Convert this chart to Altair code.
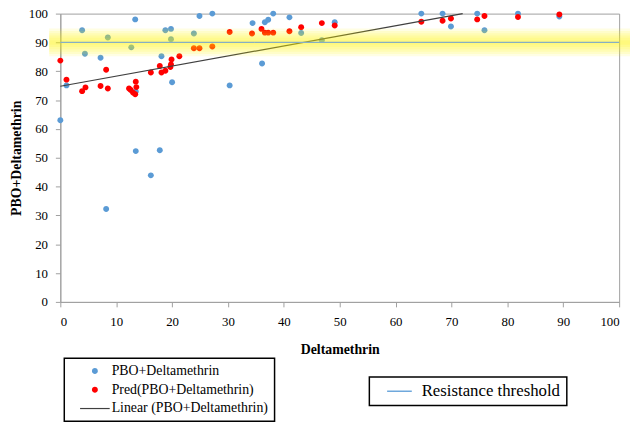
import altair as alt
import pandas as pd

S_OBS = "PBO+Deltamethrin"
S_PRED = "Pred(PBO+Deltamethrin)"
S_LIN = "Linear (PBO+Deltamethrin)"
S_THR = "Resistance threshold"

obs_x = [0, 1.1, 3.9, 4.4, 7.2, 8.2, 8.5, 12.7, 13.4, 13.5, 13.5, 16.2, 17.8, 18.1, 18.8,
         19.8, 19.8, 20.0, 23.9, 24.9, 27.2, 30.3, 34.4, 36.1, 36.6, 37.2, 38.1, 41.0,
         43.1, 46.8, 49.1, 64.6, 68.4, 69.9, 74.6, 75.9, 81.9, 89.3]
obs_y = [63.0, 75.1, 94.2, 86.1, 84.7, 32.2, 91.7, 88.3, 98.0, 73.0, 52.3, 43.9, 52.6, 85.2, 94.2,
         94.7, 91.1, 76.2, 93.1, 99.2, 100, 75.1, 96.7, 82.7, 97.0, 97.9, 100, 98.7,
         93.3, 90.8, 97.0, 100, 100, 95.5, 100, 94.2, 100, 99.0]

pred_x = [0, 1.1, 3.9, 4.5, 7.2, 8.2, 8.5, 12.3, 12.6, 13.0, 13.4, 13.6, 13.5, 16.2, 17.8,
          18.1, 18.8, 19.8, 19.9, 19.7, 21.3, 23.9, 24.9, 27.2, 30.3, 34.3, 36.0, 36.6,
          37.2, 38.1, 41.0, 43.1, 46.8, 49.1, 64.6, 68.4, 69.9, 74.6, 75.9, 81.9, 89.3]
pred_y = [83.7, 77.1, 73.1, 74.4, 74.9, 80.5, 74.0, 74.0, 73.5, 72.6, 72.0, 74.5, 76.4, 79.6, 81.8,
          79.6, 80.2, 82.4, 84.1, 81.5, 85.2, 88.0, 88.0, 88.6, 93.6, 93.1, 94.7, 93.4,
          93.4, 93.4, 93.9, 95.3, 96.7, 95.9, 97.2, 97.5, 98.3, 98.0, 99.2, 98.8, 99.7]

trend_x = [0, 72]
trend_y = [74.8, 100]
threshold = 90
glow_x = [-2, 102]
glow_half = [0.8, 1.6, 2.4, 3.2, 4.0, 4.8]
ticks = list(range(0, 101, 10))

pts = pd.DataFrame({
    "x": obs_x + pred_x,
    "y": obs_y + pred_y,
    "series": [S_OBS] * len(obs_x) + [S_PRED] * len(pred_x),
})
trend = pd.DataFrame({"x": trend_x, "y": trend_y})
thr = pd.DataFrame({"x": [0, 100], "y": [threshold, threshold], "series": [S_THR, S_THR]})
glow = pd.DataFrame({
    "x": [glow_x[0]] * len(glow_half),
    "x2": [glow_x[1]] * len(glow_half),
    "y": [threshold - h for h in glow_half],
    "y2": [threshold + h for h in glow_half],
})

FONT = "Liberation Serif"
AXC = "#A0A0A0"

xs = alt.Scale(domain=[0, 100], nice=False)
ys = alt.Scale(domain=[0, 100], nice=False)
xaxis = alt.Axis(title="Deltamethrin", values=ticks, grid=False, labelOverlap=False,
                 labelPadding=9, titlePadding=14)
yaxis = alt.Axis(title="PBO+Deltamethrin", values=ticks, grid=False, labelOverlap=False,
                 labelPadding=8, titlePadding=5)
X = alt.X("x:Q", scale=xs, axis=xaxis)
Y = alt.Y("y:Q", scale=ys, axis=yaxis)

DOT = "M-0.6,0 A0.6,0.6 0 1,0 0.6,0 A0.6,0.6 0 1,0 -0.6,0 Z"
BAR = "M-3,-0.12 L3,-0.12 L3,0.12 L-3,0.12 Z"

color_scale = alt.Scale(domain=[S_OBS, S_PRED, S_LIN], range=["#5B9BD5", "#FF0000", "#404040"])
shape_scale = alt.Scale(domain=[S_OBS, S_PRED, S_LIN], range=[DOT, DOT, BAR])

left_legend = alt.Legend(
    title=None, orient="none", legendX=4, legendY=349, direction="vertical",
    strokeColor="#000000", padding=6, symbolSize=100, symbolOffset=18, labelOffset=10,
    labelFontSize=14, rowPadding=5, symbolStrokeWidth=0,
)

right_legend = alt.Legend(
    title=None, orient="none", legendX=313, legendY=368, strokeColor="#000000", padding=6,
    symbolType="M-2.5,0 L2.5,0", symbolSize=100, symbolOffset=16, labelOffset=14,
    labelFontSize=17, symbolStrokeColor="#6FA8DC", symbolStrokeWidth=1.3,
)

points = alt.Chart(pts).mark_point(size=100, filled=True, opacity=1).encode(
    x=X, y=Y,
    color=alt.Color("series:N", scale=color_scale, legend=left_legend),
    shape=alt.Shape("series:N", scale=shape_scale, legend=left_legend),
)
trendline = alt.Chart(trend).mark_line(strokeWidth=1.2, color="#404040").encode(x=X, y=Y)
glow_layer = alt.Chart(glow).mark_rect(color="#FFF200", opacity=0.11, clip=False).encode(
    x=X, x2="x2:Q", y=Y, y2="y2:Q",
)
thr_line = alt.Chart(thr).mark_line(color="#86AFC4", strokeWidth=1.3).encode(
    x=X, y=Y,
    strokeDash=alt.StrokeDash("series:N", scale=alt.Scale(domain=[S_THR], range=[[1, 0]]),
                              legend=right_legend),
)

chart = alt.layer(points, trendline, glow_layer, thr_line).properties(
    width=566, height=292,
    autosize=alt.AutoSizeParams(type="none"),
    padding={"left": 53, "top": 3, "right": 11, "bottom": 122},
).configure(font=FONT).configure_view(
    stroke=AXC, strokeWidth=1
).configure_axis(
    domainColor=AXC, tickColor=AXC, tickSize=5, labelFont=FONT, labelFontSize=13,
    labelColor="black", titleFont=FONT, titleFontSize=14, titleFontWeight="bold",
    titleColor="black",
).configure_legend(
    strokeWidth=1.5, labelFont=FONT, labelColor="black",
)

chart.save("out.html", embed_options={"renderer": "svg", "actions": False})
